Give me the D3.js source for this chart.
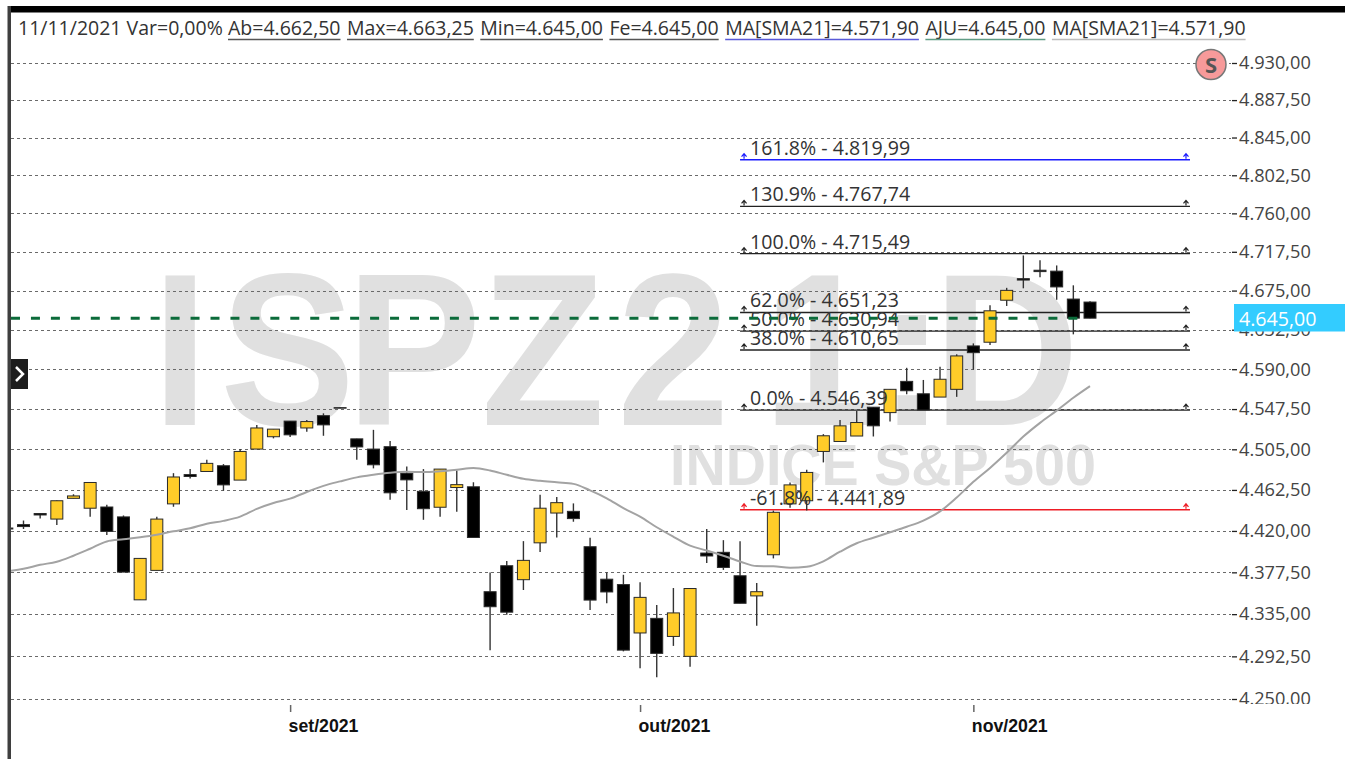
<!DOCTYPE html>
<html>
<head>
<meta charset="utf-8">
<style>
html, body { margin: 0; background: #fff; overflow: hidden; }
svg { display: block; }
text { font-family: "Open Sans", "Noto Sans", sans-serif; }
</style>
<script src="https://cdn.jsdelivr.net/npm/d3@7"></script>
</head>
<body>
<svg id="chart" width="1345" height="759"></svg>
<script>
// daily candles, oldest first
const opens = [4423, 4426.5, 4438, 4432.25, 4453.75, 4443.5, 4444.75, 4434.5, 4349.5, 4379.5, 4448, 4478.5, 4481.75, 4487.75, 4472.75, 4505.25, 4518.25, 4534.75, 4527.5, 4540.5, 4549, 4516, 4505.25, 4507.75, 4480, 4461, 4444.5, 4465, 4465.75, 4357.75, 4384.25, 4370, 4407.75, 4438.5, 4440.25, 4403.75, 4370.5, 4365, 4316, 4330.75, 4312.5, 4292.5, 4397.25, 4398, 4374, 4353.5, 4395.5, 4448, 4451.25, 4502.75, 4513.25, 4519, 4549.5, 4543.75, 4577, 4563.75, 4560.25, 4568.5, 4615, 4619, 4664.5, 4688, 4697.25, 4696.25, 4665.75, 4662.5];
const highs = [4425, 4430.75, 4438.5, 4451.5, 4458, 4470.25, 4447, 4436, 4391.75, 4434.75, 4480, 4484.25, 4494, 4489.5, 4505.25, 4530.75, 4526.25, 4534.75, 4536, 4543, 4549.25, 4516, 4525.5, 4513.75, 4487, 4484.25, 4484.25, 4482.75, 4470.5, 4377.25, 4389, 4409.5, 4457.5, 4455.25, 4448.5, 4413, 4377.25, 4375, 4367.5, 4344.25, 4361.5, 4361, 4422, 4410.5, 4409.5, 4366.5, 4441, 4470.25, 4483.5, 4521, 4536, 4545.5, 4549.5, 4568.5, 4591.5, 4578.5, 4592.75, 4606, 4617.75, 4659, 4678, 4713.5, 4708.25, 4702.5, 4680.75, 4663.25];
const lows = [4421, 4422, 4432.75, 4426, 4453.75, 4434.75, 4415.75, 4377.75, 4349.5, 4379.5, 4445, 4474.5, 4481.75, 4461.75, 4472.75, 4505.25, 4516.5, 4518, 4523.5, 4519.25, 4548.25, 4494, 4485, 4452.25, 4441.75, 4431.5, 4434.75, 4439.75, 4413.25, 4298.75, 4334.5, 4359.5, 4398.25, 4413.25, 4429.5, 4339.25, 4346, 4297.5, 4280.5, 4271.75, 4303, 4282, 4387, 4380, 4346, 4323.25, 4391.75, 4444, 4441, 4491.25, 4513.25, 4519, 4518.5, 4534.25, 4563.25, 4546.5, 4560.25, 4560.5, 4589.5, 4616, 4658.25, 4677.5, 4689.5, 4665, 4627.5, 4645];
const closes = [4422, 4424.5, 4436.5, 4451.25, 4456.25, 4470.25, 4419.5, 4377.75, 4391.75, 4432.25, 4476, 4476.5, 4490.25, 4467.75, 4502.75, 4527.5, 4526.25, 4520.25, 4534.25, 4530.75, 4548.5, 4507.5, 4488.75, 4459.5, 4473, 4443, 4484.25, 4468, 4413.25, 4342.5, 4337, 4389.75, 4443.5, 4449.25, 4432.75, 4349.25, 4357.5, 4298.75, 4352, 4295.5, 4336.25, 4361, 4394.25, 4382.5, 4346, 4357.75, 4439.25, 4467.75, 4480.75, 4519.25, 4529.75, 4533.25, 4529.75, 4568.5, 4567, 4546.5, 4579.25, 4604.25, 4607.75, 4653, 4675.25, 4686.5, 4695.75, 4679, 4645, 4645];
const sma21 = [4378.6, 4381.1, 4385.2, 4388.3, 4394.5, 4401.7, 4409.2, 4411.4, 4413.5, 4416.1, 4419.6, 4422.7, 4427.4, 4430.4, 4434.8, 4442.8, 4448.9, 4453.4, 4460.4, 4466.7, 4471.4, 4475.6, 4478.3, 4480.4, 4481.4, 4481.1, 4482, 4483.5, 4485.3, 4482.8, 4478.3, 4474.1, 4472, 4470.4, 4468.8, 4462, 4453.8, 4443.5, 4434.8, 4423.8, 4414, 4404.8, 4399.9, 4394.5, 4388.6, 4383.9, 4383.7, 4382.2, 4383.2, 4388.8, 4398.6, 4407.3, 4413, 4418.6, 4424.3, 4430.7, 4440.2, 4454.6, 4470.9, 4485.5, 4501.4, 4518.4, 4532.9, 4545.9, 4559.5, 4571.9];

const priceTicks = [4930, 4887.5, 4845, 4802.5, 4760, 4717.5, 4675, 4632.5, 4590, 4547.5, 4505, 4462.5, 4420, 4377.5, 4335, 4292.5, 4250];
const monthTicks = [17, 38, 58];
const monthLabels = ['set/2021', 'out/2021', 'nov/2021'];

const fibPcts = ['161.8%', '130.9%', '100.0%', '62.0%', '50.0%', '38.0%', '0.0%', '-61.8%'];
const fibPrices = [4819.99, 4767.74, 4715.49, 4651.23, 4630.94, 4610.65, 4546.39, 4441.89];
const fibColors = ['#1a1aff', '#222', '#222', '#222', '#222', '#222', '#222', '#ee1c25'];

const headerLabels = ['Ab=4.662,50', 'Max=4.663,25', 'Min=4.645,00', 'Fe=4.645,00', 'MA[SMA21]=4.571,90', 'AJU=4.645,00', 'MA[SMA21]=4.571,90'];
const headerColors = ['#555', '#555', '#555', '#555', '#5a5ad8', '#5f9c85', '#bdbdbd'];
const headerDate = '11/11/2021 Var=0,00%';
const lastPrice = 4645;

const locale = d3.formatLocale({ decimal: ',', thousands: '.', grouping: [3], currency: ['', ''] });
const fmt = locale.format(',.2f');

const svg = d3.select('#chart');
const x = d3.scaleLinear().domain([0, 65]).range([6.83, 1090]);
const y = d3.scaleLog().domain([4250, 4930]).range([699, 63]);
const candleW = 12;

svg.append('clipPath').attr('id', 'plot').append('rect')
  .attr('x', 11).attr('y', 12).attr('width', 1334).attr('height', 692);

// watermark, its glyphs are a bit narrower than the bold font here
const wmStretch = 0.93;
const wmOrigins = [152, 220, 346, 481, 617, 763, 878, 933];
svg.append('text').attr('transform', `scale(${wmStretch},1)`)
  .attr('x', wmOrigins.map(v => v / wmStretch).join(' ')).attr('y', 425)
  .attr('font-size', 218).attr('font-weight', 700).attr('fill', '#e0e0e0')
  .style('font-family', '"Liberation Sans", Arial, sans-serif')
  .text('ISPZ21:D');
svg.append('text').attr('x', 670).attr('y', 485)
  .attr('font-size', 57).attr('font-weight', 700).attr('fill', '#e0e0e0')
  .attr('textLength', 426).attr('lengthAdjust', 'spacingAndGlyphs')
  .style('font-family', '"Liberation Sans", Arial, sans-serif')
  .text('INDICE S&P 500');

// grid
svg.append('g').selectAll('line').data(priceTicks).enter().append('line')
  .attr('x1', 11).attr('x2', 1231)
  .attr('y1', d => Math.round(y(d)) + 0.5).attr('y2', d => Math.round(y(d)) + 0.5)
  .attr('stroke', '#6a6a6a').attr('stroke-dasharray', '3,3');

// price axis, clipped at the bottom like the original
const yAxis = svg.append('g').attr('clip-path', 'url(#plot)').append('g')
  .attr('transform', 'translate(1232,0)')
  .call(d3.axisRight(y).tickValues(priceTicks).tickFormat(fmt).tickSize(5).tickPadding(2));
yAxis.select('.domain').remove();
yAxis.selectAll('.tick line').attr('stroke', '#222').attr('stroke-width', 1.3);
yAxis.selectAll('text').attr('font-size', 18.2).attr('fill', '#444');
yAxis.selectAll('text').style('font-family', '"Open Sans", sans-serif');

// month axis
const xAxis = svg.append('g').attr('transform', 'translate(0,705)')
  .call(d3.axisBottom(x).tickValues(monthTicks).tickFormat((d, i) => monthLabels[i]).tickSize(7).tickPadding(5));
xAxis.select('.domain').remove();
xAxis.selectAll('.tick line').attr('stroke', '#666').attr('stroke-width', 1.5);
xAxis.selectAll('text').attr('text-anchor', 'start').attr('x', -2).attr('y', 14).attr('dy', '0.71em')
  .attr('font-size', 17.7).attr('font-weight', 700).attr('fill', '#111')
  .style('font-family', '"Liberation Sans", Arial, sans-serif');

// fibonacci lines, they stay behind the candles
const fibStart = 44;
const fibEnd = 71;
svg.append('g').selectAll('line').data(fibPrices).enter().append('line')
  .attr('x1', x(fibStart)).attr('x2', x(fibEnd))
  .attr('y1', d => y(d)).attr('y2', d => y(d))
  .attr('stroke', (d, i) => fibColors[i]).attr('stroke-width', 1.4);
const arrow = 'M-2.5,-3 L0,-6 L2.5,-3 M0,-6 L0,-1';
[fibStart, fibEnd].forEach(idx => {
  svg.append('g').selectAll('path').data(fibPrices).enter().append('path')
    .attr('transform', d => `translate(${x(idx) + (idx === fibStart ? 4 : -4)},${y(d)})`)
    .attr('d', arrow).attr('fill', 'none')
    .attr('stroke', (d, i) => fibColors[i]).attr('stroke-width', 1.2);
});

// candles
const candles = svg.append('g').attr('clip-path', 'url(#plot)');
const idxs = d3.range(opens.length);
candles.selectAll('.wick').data(idxs).enter().append('line')
  .attr('x1', d => x(d)).attr('x2', d => x(d))
  .attr('y1', d => y(highs[d])).attr('y2', d => y(lows[d]))
  .attr('stroke', '#333').attr('stroke-width', 1.4);
candles.selectAll('.body').data(idxs).enter().append('rect')
  .attr('x', d => x(d) - candleW / 2)
  .attr('width', candleW)
  .attr('y', d => y(Math.max(opens[d], closes[d])))
  .attr('height', d => Math.max(0.5, Math.abs(y(opens[d]) - y(closes[d]))))
  .attr('fill', d => closes[d] > opens[d] ? '#ffcc29' : '#000')
  .attr('stroke', '#2a2a2a').attr('stroke-width', 1);

// moving average
const line = d3.line().curve(d3.curveMonotoneX).x((d, i) => x(i)).y(d => y(d));
svg.append('path').attr('clip-path', 'url(#plot)').datum(sma21).attr('d', line)
  .attr('fill', 'none').attr('stroke', '#a3a3a3').attr('stroke-width', 2);

// fibonacci labels
svg.append('g').selectAll('text').data(fibPrices).enter().append('text')
  .attr('x', x(fibStart) + 10).attr('y', d => y(d) - 5)
  .attr('font-size', 19.6).attr('fill', '#333')
  .text((d, i) => fibPcts[i] + ' - ' + fmt(d));

// last price, the dashes stop at the last candle
svg.append('line').attr('x1', 11).attr('x2', x(65) - 10)
  .attr('y1', y(lastPrice)).attr('y2', y(lastPrice))
  .attr('stroke', '#0b6b3a').attr('stroke-width', 3).attr('stroke-dasharray', '9,10.95');
svg.append('rect').attr('x', 1234).attr('y', 304).attr('width', 111).attr('height', 27.5).attr('fill', '#33ccff');
svg.append('text').attr('x', 1239).attr('y', 326).attr('font-size', 19.6).attr('fill', '#fff').text(fmt(lastPrice));

// S badge
svg.append('circle').attr('cx', 1211).attr('cy', 64.5).attr('r', 15)
  .attr('fill', '#f79a9a').attr('stroke', '#777').attr('stroke-width', 1.5);
svg.append('text').attr('x', 1211).attr('y', 72.5).attr('text-anchor', 'middle')
  .attr('font-size', 22).attr('font-weight', 700).attr('fill', '#555').text('S');

// left hand collapse button
svg.append('rect').attr('x', 11).attr('y', 359).attr('width', 17).attr('height', 30).attr('fill', '#1d1d1d');
svg.append('path').attr('d', 'M16,367 L23,374 L16,381').attr('fill', 'none').attr('stroke', '#fff').attr('stroke-width', 2.5);

// frame
svg.append('rect').attr('x', 8).attr('y', 6).attr('width', 1337).attr('height', 6.5).attr('fill', '#000');
svg.append('rect').attr('x', 7.5).attr('y', 6).attr('width', 3.5).attr('height', 753).attr('fill', '#3f3f3f');

// header line
const headerY = 35;
const hdr = svg.append('g').attr('font-size', 19.5).attr('fill', '#333');
hdr.append('text').attr('x', 18).attr('y', headerY).text(headerDate);
let cursor = 228;
headerLabels.forEach((t, i) => {
  const el = hdr.append('text').attr('x', cursor).attr('y', headerY).text(t);
  const w = el.node().getComputedTextLength();
  hdr.append('line').attr('x1', cursor).attr('x2', cursor + w)
    .attr('y1', 39.5).attr('y2', 39.5)
    .attr('stroke', headerColors[i]).attr('stroke-width', 1.6);
  cursor += w + 6.5;
});
</script>
</body>
</html>
